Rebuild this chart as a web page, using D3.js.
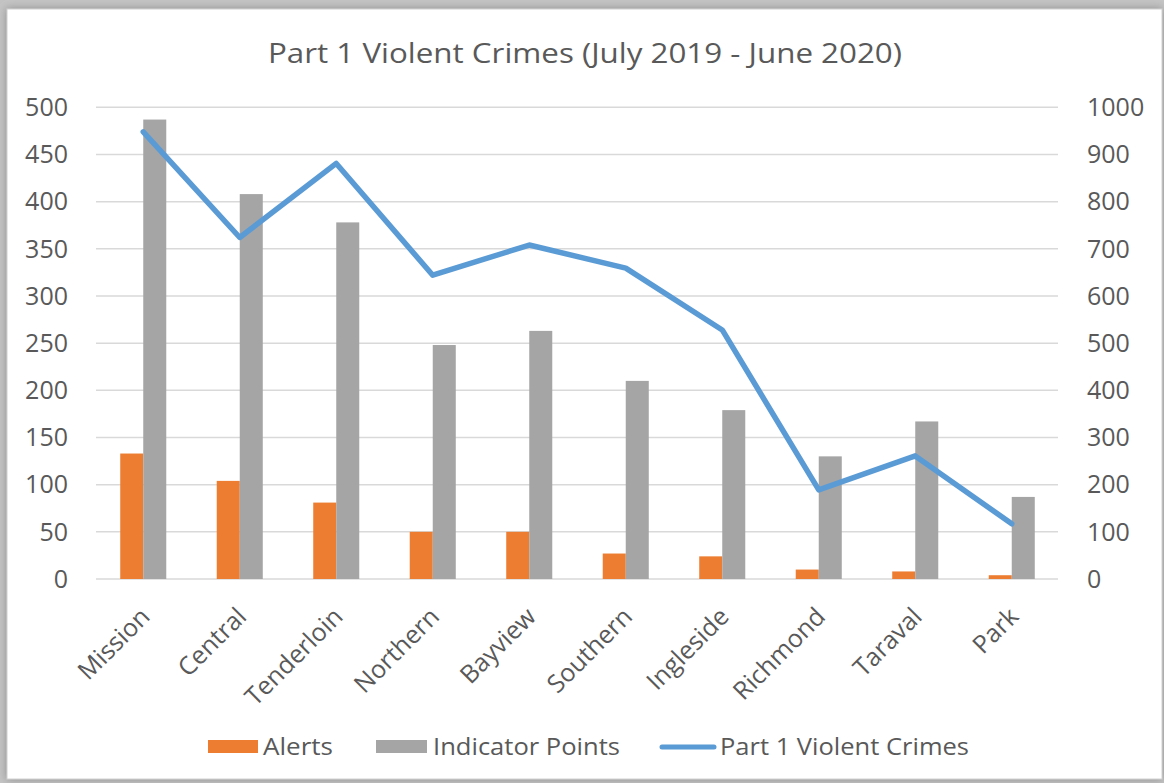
<!DOCTYPE html>
<html>
<head>
<meta charset="utf-8">
<script src="https://cdn.jsdelivr.net/npm/d3@7"></script>
<style>
  body { margin: 0; background: #ffffff; }
  text { font-family: "Open Sans", sans-serif; fill: #595959; }
</style>
</head>
<body>
<div id="chart"></div>
<script>
// Data
const districts = ["Mission", "Central", "Tenderloin", "Northern", "Bayview",
  "Southern", "Ingleside", "Richmond", "Taraval", "Park"];
const alerts = [133, 104, 81, 50, 50, 27, 24, 10, 8, 4];
const indicatorPoints = [487, 408, 378, 248, 263, 210, 179, 130, 167, 87];
const violentCrimes = [948, 724, 881, 644, 708, 659, 528, 189, 261, 117];
const leftTicks = [0, 50, 100, 150, 200, 250, 300, 350, 400, 450, 500];
const rightTicks = [0, 100, 200, 300, 400, 500, 600, 700, 800, 900, 1000];

// Size of the SVG container
const width = 1164;
const height = 783;

const svg = d3.select("#chart")
  .append("svg")
  .attr("width", width)
  .attr("height", height);

// Frame with a grey shadow like the pasted Excel chart
const defs = svg.append("defs");
const shadow = defs.append("filter").attr("id", "shadow")
  .attr("x", "-5%").attr("y", "-5%").attr("width", "110%").attr("height", "110%");
shadow.append("feDropShadow")
  .attr("dx", 0).attr("dy", 0).attr("stdDeviation", 4)
  .attr("flood-color", "#808080").attr("flood-opacity", 0.8);

svg.append("rect")
  .attr("width", width).attr("height", height)
  .attr("fill", "#c4c4c4");
svg.append("rect")
  .attr("x", 7).attr("y", 9)
  .attr("width", 1155).attr("height", 770)
  .attr("fill", "#ffffff")
  .attr("stroke", "#d0d0d0")
  .attr("filter", "url(#shadow)");

// Scales
const plotLeft = 95, plotRight = 1060;
const plotTop = 107.3, plotBottom = 579;

const x0 = d3.scaleBand()
  .domain(districts)
  .range([plotLeft, plotRight])
  .paddingInner(0.523)
  .paddingOuter(0.2615);

const x1 = d3.scaleBand()
  .domain(["alerts", "indicator"])
  .range([0, x0.bandwidth()]);

const yLeft = d3.scaleLinear().domain([0, 500]).range([plotBottom, plotTop]);
const yRight = d3.scaleLinear().domain([0, 1000]).range([plotBottom, plotTop]);

// Gridlines
svg.append("g")
  .selectAll("line")
  .data(leftTicks)
  .enter()
  .append("line")
  .attr("x1", 96)
  .attr("x2", 1058)
  .attr("y1", d => yLeft(d))
  .attr("y2", d => yLeft(d))
  .attr("stroke", "#d9d9d9")
  .attr("stroke-width", 1.5);

// Left axis labels
svg.append("g")
  .selectAll("text")
  .data(leftTicks)
  .enter()
  .append("text")
  .attr("x", 68)
  .attr("y", d => yLeft(d))
  .attr("dy", "0.35em")
  .attr("text-anchor", "end")
  .attr("font-size", 25)
  .text(d => d);

// Right axis labels
svg.append("g")
  .selectAll("text")
  .data(rightTicks)
  .enter()
  .append("text")
  .attr("x", 1087)
  .attr("y", d => yRight(d))
  .attr("dy", "0.35em")
  .attr("text-anchor", "start")
  .attr("font-size", 25)
  .text(d => d);

// Bars
const groups = svg.append("g")
  .selectAll("g")
  .data(districts)
  .enter()
  .append("g")
  .attr("transform", d => "translate(" + x0(d) + ",0)");

groups.append("rect")
  .attr("x", x1("alerts"))
  .attr("width", x1.bandwidth())
  .attr("y", (d, i) => yLeft(alerts[i]))
  .attr("height", (d, i) => yLeft(0) - yLeft(alerts[i]))
  .attr("fill", "#ed7d31");

groups.append("rect")
  .attr("x", x1("indicator"))
  .attr("width", x1.bandwidth())
  .attr("y", (d, i) => yLeft(indicatorPoints[i]))
  .attr("height", (d, i) => yLeft(0) - yLeft(indicatorPoints[i]))
  .attr("fill", "#a5a5a5");

// Line on the secondary axis
const line = d3.line()
  .x((d, i) => x0(districts[i]) + x0.bandwidth() / 2)
  .y(d => yRight(d));

svg.append("path")
  .datum(violentCrimes)
  .attr("d", line)
  .attr("fill", "none")
  .attr("stroke", "#5b9bd5")
  .attr("stroke-width", 5.5)
  .attr("stroke-linejoin", "round")
  .attr("stroke-linecap", "round");

// Category labels rotated 45 degrees
svg.append("g")
  .selectAll("text")
  .data(districts)
  .enter()
  .append("text")
  .attr("transform", d => {
    const cx = x0(d) + x0.bandwidth() / 2 + 2;
    return "translate(" + cx + ",612) rotate(-45)";
  })
  .attr("text-anchor", "end")
  .attr("dy", "0.35em")
  .attr("font-size", 25)
  .text(d => d);

// Title
svg.append("text")
  .attr("x", 585)
  .attr("y", 63)
  .attr("text-anchor", "middle")
  .attr("font-size", 28)
  .attr("textLength", 634)
  .attr("lengthAdjust", "spacingAndGlyphs")
  .text("Part 1 Violent Crimes (July 2019 - June 2020)");

// Legend
const legend = svg.append("g");
legend.append("rect")
  .attr("x", 208).attr("y", 740).attr("width", 50).attr("height", 13)
  .attr("fill", "#ed7d31");
legend.append("text")
  .attr("x", 263).attr("y", 747).attr("dy", "0.35em")
  .attr("font-size", 24)
  .attr("textLength", 70).attr("lengthAdjust", "spacingAndGlyphs")
  .text("Alerts");
legend.append("rect")
  .attr("x", 376).attr("y", 740).attr("width", 51).attr("height", 13)
  .attr("fill", "#a5a5a5");
legend.append("text")
  .attr("x", 433).attr("y", 747).attr("dy", "0.35em")
  .attr("font-size", 24)
  .attr("textLength", 187).attr("lengthAdjust", "spacingAndGlyphs")
  .text("Indicator Points");
legend.append("line")
  .attr("x1", 662).attr("x2", 714).attr("y1", 747).attr("y2", 747)
  .attr("stroke", "#5b9bd5").attr("stroke-width", 5)
  .attr("stroke-linecap", "round");
legend.append("text")
  .attr("x", 720).attr("y", 747).attr("dy", "0.35em")
  .attr("font-size", 24)
  .attr("textLength", 249).attr("lengthAdjust", "spacingAndGlyphs")
  .text("Part 1 Violent Crimes");
</script>
</body>
</html>
